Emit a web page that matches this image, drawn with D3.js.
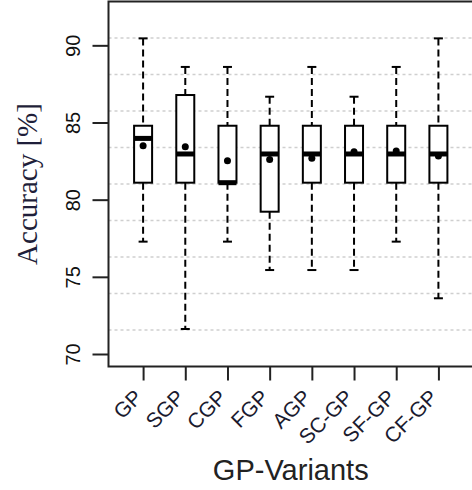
<!DOCTYPE html>
<html>
<head>
<meta charset="utf-8">
<script src="https://cdn.jsdelivr.net/npm/d3@7"></script>
<style>
  body { margin: 0; background: #fff; }
</style>
</head>
<body>
<div class="chart"></div>
<script>
const categories = ['GP', 'SGP', 'CGP', 'FGP', 'AGP', 'SC-GP', 'SF-GP', 'CF-GP'];
const whiskerLow = [77.28, 71.62, 77.28, 75.44, 75.44, 75.44, 77.28, 73.61];
const q1 = [81.1, 81.1, 81.1, 79.22, 81.1, 81.1, 81.1, 81.1];
const medians = [83.97, 82.96, 81.1, 82.96, 82.96, 82.96, 82.96, 82.96];
const q3 = [84.79, 86.78, 84.79, 84.79, 84.79, 84.79, 84.79, 84.79];
const whiskerHigh = [90.45, 88.6, 88.6, 86.67, 88.6, 86.67, 88.6, 90.45];
const means = [83.5, 83.43, 82.52, 82.61, 82.68, 83.11, 83.15, 82.83];
const yTicks = [70, 75, 80, 85, 90];

const data = categories.map((c, i) => ({
  name: c,
  lo: whiskerLow[i], q1: q1[i], med: medians[i], q3: q3[i], hi: whiskerHigh[i], mean: means[i]
}));

const width = 472;
const height = 490;
const plot = {left: 108.5, right: 473, top: 1.5, bottom: 366.5};

const svg = d3.select('.chart')
  .append('svg')
    .attr('width', width)
    .attr('height', height)
    .style('font-family', 'Arial, "Liberation Sans", sans-serif');

svg.append('rect')
  .attr('width', width)
  .attr('height', height)
  .attr('fill', '#fff');

const x = d3.scalePoint()
  .domain(categories)
  .range([plot.left, plot.right])
  .padding(0.82);

const y = d3.scaleLinear()
  .domain([69.19, 92.84])
  .range([plot.bottom, plot.top]);

// grid: 10 equal cells over the plot region
const [yMin, yMax] = y.domain();
const gridVals = d3.range(1, 10).map(i => yMin + i * (yMax - yMin) / 10);

svg.append('g')
  .selectAll('line')
  .data(gridVals)
  .enter()
  .append('line')
    .attr('x1', plot.left)
    .attr('x2', plot.right)
    .attr('y1', d => y(d))
    .attr('y2', d => y(d))
    .attr('stroke', '#cfcfcf')
    .attr('stroke-width', 1.6)
    .attr('stroke-dasharray', '3,3');

const boxW = 18;
const capW = 9;

const boxes = svg.append('g')
  .selectAll('g')
  .data(data)
  .enter()
  .append('g')
    .attr('transform', d => `translate(${x(d.name)},0)`);

// whiskers
boxes.append('line')
  .attr('y1', d => y(d.hi))
  .attr('y2', d => y(d.q3))
  .attr('stroke', '#000')
  .attr('stroke-width', 2)
  .attr('stroke-dasharray', '7,4');

boxes.append('line')
  .attr('y1', d => y(d.q1))
  .attr('y2', d => y(d.lo))
  .attr('stroke', '#000')
  .attr('stroke-width', 2)
  .attr('stroke-dasharray', '7,4');

boxes.append('line')
  .attr('x1', -capW / 2)
  .attr('x2', capW / 2)
  .attr('y1', d => y(d.hi))
  .attr('y2', d => y(d.hi))
  .attr('stroke', '#000')
  .attr('stroke-width', 2);

boxes.append('line')
  .attr('x1', -capW / 2)
  .attr('x2', capW / 2)
  .attr('y1', d => y(d.lo))
  .attr('y2', d => y(d.lo))
  .attr('stroke', '#000')
  .attr('stroke-width', 2);

boxes.append('rect')
  .attr('x', -boxW / 2)
  .attr('width', boxW)
  .attr('y', d => y(d.q3))
  .attr('height', d => y(d.q1) - y(d.q3))
  .attr('fill', '#fff')
  .attr('stroke', '#000')
  .attr('stroke-width', 2);

boxes.append('line')
  .attr('x1', -boxW / 2)
  .attr('x2', boxW / 2)
  .attr('y1', d => y(d.med))
  .attr('y2', d => y(d.med))
  .attr('stroke', '#000')
  .attr('stroke-width', 5);

boxes.append('circle')
  .attr('cy', d => y(d.mean))
  .attr('r', 3.5)
  .attr('fill', '#000');

// frame
svg.append('rect')
  .attr('x', plot.left)
  .attr('y', plot.top)
  .attr('width', plot.right - plot.left)
  .attr('height', plot.bottom - plot.top)
  .attr('fill', 'none')
  .attr('stroke', '#222')
  .attr('stroke-width', 2);

// y axis
const yAxis = svg.append('g')
  .attr('transform', `translate(${plot.left},0)`)
  .call(d3.axisLeft(y).tickValues(yTicks).tickSize(16).tickFormat(d3.format('d')));

yAxis.select('.domain').remove();
yAxis.selectAll('.tick line')
  .attr('stroke', '#222')
  .attr('stroke-width', 2);
yAxis.selectAll('.tick text')
  .attr('x', null)
  .attr('dy', null)
  .attr('transform', 'translate(-29,0) rotate(-90)')
  .attr('text-anchor', 'middle')
  .attr('font-size', '20px')
  .attr('font-family', 'Arial, "Liberation Sans", sans-serif')
  .attr('fill', '#111');

// x axis
const xAxis = svg.append('g')
  .attr('transform', `translate(0,${plot.bottom})`)
  .call(d3.axisBottom(x).tickSize(14));

xAxis.select('.domain').remove();
xAxis.selectAll('.tick line')
  .attr('stroke', '#222')
  .attr('stroke-width', 2);
xAxis.selectAll('.tick text')
  .attr('y', null)
  .attr('dy', null)
  .attr('transform', 'translate(0,32) rotate(-45)')
  .attr('text-anchor', 'end')
  .attr('font-size', '21px')
  .attr('font-family', 'Arial, "Liberation Sans", sans-serif')
  .attr('fill', '#1a1a2e');

// axis titles
svg.append('text')
  .attr('transform', `translate(37,${(plot.top + plot.bottom) / 2}) rotate(-90)`)
  .attr('text-anchor', 'middle')
  .attr('font-family', '"Liberation Serif", "Times New Roman", serif')
  .attr('font-size', '29px')
  .attr('fill', '#1f1f3a')
  .text('Accuracy [%]');

svg.append('text')
  .attr('x', (plot.left + plot.right) / 2)
  .attr('y', 480)
  .attr('text-anchor', 'middle')
  .attr('font-size', '29px')
  .attr('fill', '#222')
  .text('GP-Variants');
</script>
</body>
</html>
